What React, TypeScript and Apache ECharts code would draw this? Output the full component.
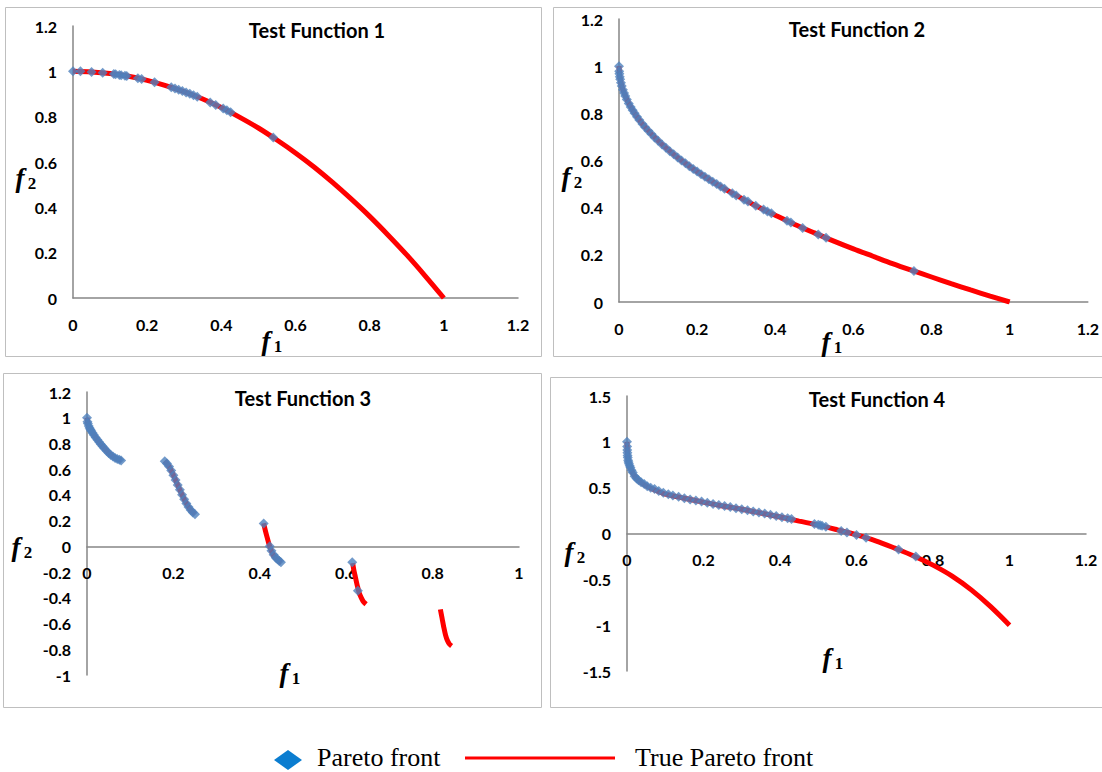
import React, { useEffect, useRef } from "react";
import * as echarts from "echarts";

// ---------- Test Function 1 ----------
const TF1_TRUE_F1 = [0, 0.05, 0.1, 0.15, 0.2, 0.25, 0.3, 0.35, 0.4, 0.45, 0.5, 0.55, 0.6, 0.65, 0.7, 0.75, 0.8, 0.85, 0.9, 0.95, 1];
const TF1_TRUE_F2 = [1, 0.997, 0.99, 0.978, 0.96, 0.937, 0.91, 0.878, 0.84, 0.797, 0.75, 0.697, 0.64, 0.578, 0.51, 0.437, 0.36, 0.277, 0.19, 0.097, 0];
const TF1_PARETO_F1 = [0, 0.02, 0.05, 0.08, 0.11, 0.115, 0.125, 0.13, 0.14, 0.145, 0.175, 0.185, 0.22, 0.265, 0.275, 0.285, 0.295, 0.305, 0.315, 0.325, 0.335, 0.37, 0.385, 0.405, 0.415, 0.425, 0.54];
const TF1_PARETO_F2 = [1, 1, 0.997, 0.994, 0.988, 0.987, 0.984, 0.983, 0.98, 0.979, 0.969, 0.966, 0.952, 0.93, 0.924, 0.919, 0.913, 0.907, 0.901, 0.894, 0.888, 0.863, 0.852, 0.836, 0.828, 0.819, 0.708];

// ---------- Test Function 2 ----------
const TF2_TRUE_F1 = [0, 0.002, 0.005, 0.01, 0.02, 0.03, 0.05, 0.07, 0.1, 0.13, 0.16, 0.2, 0.25, 0.3, 0.35, 0.4, 0.45, 0.5, 0.55, 0.6, 0.65, 0.7, 0.75, 0.8, 0.85, 0.9, 0.95, 1];
const TF2_TRUE_F2 = [1, 0.955, 0.93, 0.9, 0.86, 0.827, 0.776, 0.735, 0.684, 0.64, 0.6, 0.553, 0.5, 0.452, 0.408, 0.368, 0.329, 0.293, 0.258, 0.225, 0.194, 0.163, 0.134, 0.106, 0.078, 0.051, 0.025, 0];
const TF2_PARETO_F1 = [0, 0.0005, 0.001, 0.002, 0.003, 0.005, 0.007, 0.01, 0.013, 0.016, 0.02, 0.025, 0.03, 0.035, 0.04, 0.046, 0.052, 0.06, 0.067, 0.075, 0.083, 0.091, 0.1, 0.11, 0.12, 0.13, 0.14, 0.15, 0.16, 0.17, 0.18, 0.19, 0.2, 0.21, 0.22, 0.23, 0.24, 0.25, 0.26, 0.27, 0.29, 0.3, 0.32, 0.33, 0.35, 0.37, 0.38, 0.39, 0.43, 0.44, 0.47, 0.51, 0.53, 0.755];
const TF2_PARETO_F2 = [1, 0.978, 0.968, 0.955, 0.945, 0.93, 0.916, 0.9, 0.886, 0.874, 0.859, 0.842, 0.827, 0.813, 0.8, 0.786, 0.772, 0.755, 0.741, 0.726, 0.712, 0.698, 0.684, 0.668, 0.654, 0.639, 0.626, 0.613, 0.6, 0.588, 0.576, 0.564, 0.553, 0.542, 0.531, 0.52, 0.51, 0.5, 0.49, 0.48, 0.461, 0.452, 0.434, 0.426, 0.408, 0.392, 0.384, 0.376, 0.344, 0.337, 0.314, 0.286, 0.272, 0.131];

// ---------- Test Function 3 (disconnected front, one list per piece) ----------
const TF3_TRUE_F1 = [
  [0, 0.002, 0.005, 0.01, 0.02, 0.03, 0.04, 0.05, 0.06, 0.07, 0.08],
  [0.18, 0.19, 0.2, 0.21, 0.22, 0.23, 0.24, 0.25],
  [0.409, 0.413, 0.417, 0.421, 0.425, 0.43, 0.435, 0.44, 0.445, 0.45],
  [0.615, 0.618, 0.622, 0.626, 0.63, 0.635, 0.64, 0.646],
  [0.818, 0.822, 0.826, 0.83, 0.834, 0.839, 0.844],
];
const TF3_TRUE_F2 = [
  [1, 0.955, 0.925, 0.897, 0.847, 0.8, 0.762, 0.726, 0.698, 0.679, 0.67],
  [0.665, 0.62, 0.553, 0.477, 0.402, 0.334, 0.282, 0.25],
  [0.18, 0.12, 0.07, 0.02, -0.02, -0.06, -0.085, -0.1, -0.115, -0.125],
  [-0.13, -0.19, -0.25, -0.31, -0.36, -0.4, -0.43, -0.45],
  [-0.49, -0.56, -0.63, -0.69, -0.73, -0.76, -0.775],
];
const TF3_PARETO_F1 = [0, 0.001, 0.002, 0.004, 0.006, 0.008, 0.01, 0.013, 0.016, 0.02, 0.024, 0.028, 0.032, 0.036, 0.04, 0.045, 0.05, 0.055, 0.06, 0.065, 0.07, 0.075, 0.079,
  0.18, 0.185, 0.19, 0.195, 0.2, 0.205, 0.21, 0.215, 0.22, 0.225, 0.23, 0.235, 0.24, 0.245, 0.25,
  0.409, 0.423, 0.427, 0.432, 0.437, 0.441, 0.445, 0.449,
  0.614, 0.627];
const TF3_PARETO_F2 = [1, 0.968, 0.955, 0.936, 0.921, 0.909, 0.897, 0.881, 0.866, 0.847, 0.829, 0.811, 0.794, 0.778, 0.762, 0.743, 0.726, 0.711, 0.698, 0.687, 0.679, 0.673, 0.668,
  0.662, 0.645, 0.62, 0.59, 0.553, 0.515, 0.477, 0.44, 0.402, 0.367, 0.334, 0.306, 0.282, 0.264, 0.25,
  0.178, 0.0, -0.035, -0.066, -0.088, -0.1, -0.113, -0.124,
  -0.124, -0.346];

// ---------- Test Function 4 ----------
const TF4_TRUE_F1 = [0, 0.001, 0.003, 0.006, 0.01, 0.02, 0.035, 0.05, 0.075, 0.1, 0.15, 0.2, 0.25, 0.3, 0.35, 0.4, 0.45, 0.5, 0.55, 0.6, 0.65, 0.7, 0.75, 0.8, 0.85, 0.9, 0.95, 1];
const TF4_TRUE_F2 = [1, 0.88, 0.8, 0.75, 0.7, 0.625, 0.56, 0.52, 0.47, 0.43, 0.385, 0.342, 0.3, 0.265, 0.223, 0.18, 0.135, 0.092, 0.04, -0.015, -0.08, -0.16, -0.245, -0.345, -0.465, -0.615, -0.795, -1];
const TF4_PARETO_F1 = [0, 0.0003, 0.0006, 0.001, 0.0015, 0.002, 0.003, 0.004, 0.005, 0.007, 0.009, 0.012, 0.015, 0.02, 0.025, 0.03, 0.037, 0.045, 0.053, 0.062, 0.072, 0.083, 0.095, 0.108, 0.12, 0.135, 0.15, 0.165, 0.18, 0.195, 0.21, 0.225, 0.24, 0.255, 0.27, 0.285, 0.3, 0.315, 0.33, 0.345, 0.36, 0.375, 0.39, 0.405, 0.42, 0.43, 0.49, 0.5, 0.505, 0.51, 0.52, 0.56, 0.575, 0.6, 0.625, 0.71, 0.755];
const TF4_PARETO_F2 = [1, 0.95, 0.91, 0.88, 0.85, 0.83, 0.8, 0.78, 0.76, 0.74, 0.72, 0.69, 0.665, 0.625, 0.6, 0.58, 0.56, 0.54, 0.515, 0.5, 0.485, 0.465, 0.445, 0.428, 0.415, 0.4, 0.385, 0.372, 0.36, 0.348, 0.335, 0.322, 0.31, 0.3, 0.288, 0.276, 0.265, 0.253, 0.241, 0.229, 0.217, 0.205, 0.192, 0.178, 0.166, 0.158, 0.105, 0.095, 0.09, 0.085, 0.075, 0.028, 0.01, -0.015, -0.045, -0.175, -0.25];

// ---------- Texts ----------
const TITLES = ["Test Function 1", "Test Function 2", "Test Function 3", "Test Function 4"];
const LEGEND_LABELS = ["Pareto front", "True Pareto front"];

const BLUE = "#4F81BD";
const RED = "#FF0000";
const AXIS_GRAY = "#868686";
const BORDER_GRAY = "#BFBFBF";

const zip = (xs: number[], ys: number[]) => xs.map((x, i) => [x, ys[i]]);

export default function App() {
  const ref = useRef<HTMLDivElement>(null);

  useEffect(() => {
    if (!ref.current) return;
    const chart = echarts.init(ref.current, undefined, { renderer: "svg" });

    const panels = [
      { grid: { left: 73, top: 26, width: 445, height: 272 }, x: [0, 1.2, 0.2], y: [0, 1.2, 0.2] },
      { grid: { left: 619, top: 19, width: 476, height: 283 }, x: [0, 1.2, 0.2], y: [0, 1.2, 0.2] },
      { grid: { left: 87, top: 392, width: 432, height: 283 }, x: [0, 1, 0.2], y: [-1, 1.2, 0.2] },
      { grid: { left: 627, top: 396, width: 459, height: 275 }, x: [0, 1.2, 0.2], y: [-1.5, 1.5, 0.5] },
    ];

    const tickLabel = { fontFamily: "Lato", fontWeight: "bold" as const, fontSize: 16, color: "#000" };

    const grids = panels.map((p) => ({ ...p.grid, containLabel: false }));
    // the horizontal axis crosses the vertical one at f2 = 0
    const xAxes = panels.map((p, i) => ({
      type: "value" as const,
      gridIndex: i,
      min: p.x[0],
      max: p.x[1],
      interval: p.x[2],
      position: "bottom" as const,
      offset: p.y[0] < 0 ? -(p.grid.height * -p.y[0]) / (p.y[1] - p.y[0]) : 0,
      splitLine: { show: false },
      axisTick: { show: false },
      axisLine: { show: true, onZero: false, lineStyle: { color: AXIS_GRAY, width: 1.5 } },
      axisLabel: { ...tickLabel, margin: 18 },
    }));
    const yAxes = panels.map((p, i) => ({
      type: "value" as const,
      gridIndex: i,
      min: p.y[0],
      max: p.y[1],
      interval: p.y[2],
      splitLine: { show: false },
      axisTick: { show: false },
      axisLine: { show: true, onZero: false, lineStyle: { color: AXIS_GRAY, width: 1.5 } },
      axisLabel: { ...tickLabel, margin: 16 },
    }));

    const trueLine = (data: number[][], idx: number) => ({
      type: "line" as const,
      xAxisIndex: idx,
      yAxisIndex: idx,
      data,
      showSymbol: false,
      symbol: "none",
      smooth: 0.3,
      lineStyle: { color: RED, width: 5 },
      z: 2,
      silent: true,
    });
    const pareto = (data: number[][], idx: number) => ({
      type: "scatter" as const,
      xAxisIndex: idx,
      yAxisIndex: idx,
      data,
      symbol: "diamond",
      symbolSize: 10,
      itemStyle: { color: BLUE },
      z: 3,
      silent: true,
    });

    const series: any[] = [
      trueLine(zip(TF1_TRUE_F1, TF1_TRUE_F2), 0),
      pareto(zip(TF1_PARETO_F1, TF1_PARETO_F2), 0),
      trueLine(zip(TF2_TRUE_F1, TF2_TRUE_F2), 1),
      pareto(zip(TF2_PARETO_F1, TF2_PARETO_F2), 1),
      ...TF3_TRUE_F1.map((xs, k) => trueLine(zip(xs, TF3_TRUE_F2[k]), 2)),
      pareto(zip(TF3_PARETO_F1, TF3_PARETO_F2), 2),
      trueLine(zip(TF4_TRUE_F1, TF4_TRUE_F2), 3),
      pareto(zip(TF4_PARETO_F1, TF4_PARETO_F2), 3),
    ];

    const borders = [
      [5.5, 7.5, 536, 349],
      [553.5, 7.5, 560, 349],
      [3.5, 373.5, 538, 334],
      [550.5, 377.5, 560, 330],
    ].map(([x, y, w, h]) => ({
      type: "rect",
      shape: { x, y, width: w, height: h },
      style: { fill: "none", stroke: BORDER_GRAY, lineWidth: 1 },
      z: 0,
      silent: true,
    }));

    const titlePos = [
      [317, 30],
      [857, 29],
      [303, 398],
      [877, 399],
    ];
    const titles = TITLES.map((t, i) => ({
      type: "text",
      x: titlePos[i][0],
      y: titlePos[i][1],
      style: {
        text: t,
        fontFamily: "Lato",
        fontWeight: "bold",
        fontSize: 20,
        fill: "#000",
        textAlign: "center",
        textVerticalAlign: "middle",
      },
      silent: true,
    }));

    // axis names: italic f with an upright subscript
    const names: [number, number, string][] = [
      [20, 178, "2"], [266, 341, "1"],
      [566, 177, "2"], [826, 342, "1"],
      [16, 547, "2"], [284, 673, "1"],
      [569, 552, "2"], [827, 658, "1"],
    ];
    const nameEls: any[] = [];
    names.forEach(([x, y, sub]) => {
      nameEls.push({
        type: "text",
        x,
        y,
        style: {
          text: "f",
          fontFamily: "Liberation Serif",
          fontStyle: "italic",
          fontWeight: "bold",
          fontSize: 27,
          fill: "#000",
          textAlign: "center",
          textVerticalAlign: "middle",
        },
        silent: true,
      });
      nameEls.push({
        type: "text",
        x: x + 12,
        y: y + 5,
        style: {
          text: sub,
          fontFamily: "Liberation Serif",
          fontWeight: "bold",
          fontSize: 17,
          fill: "#000",
          textAlign: "center",
          textVerticalAlign: "middle",
        },
        silent: true,
      });
    });

    const legendEls = [
      {
        type: "polygon",
        shape: { points: [[274, 760], [288, 750], [302, 760], [288, 770]] },
        style: { fill: "#0B7DD0" },
        silent: true,
      },
      {
        type: "text",
        x: 317,
        y: 757,
        style: {
          text: LEGEND_LABELS[0],
          fontFamily: "Liberation Serif",
          fontSize: 26,
          fill: "#000",
          textAlign: "left",
          textVerticalAlign: "middle",
        },
        silent: true,
      },
      {
        type: "line",
        shape: { x1: 465, y1: 758, x2: 615, y2: 758 },
        style: { stroke: RED, lineWidth: 3 },
        silent: true,
      },
      {
        type: "text",
        x: 635,
        y: 757,
        style: {
          text: LEGEND_LABELS[1],
          fontFamily: "Liberation Serif",
          fontSize: 26,
          fill: "#000",
          textAlign: "left",
          textVerticalAlign: "middle",
        },
        silent: true,
      },
    ];

    chart.setOption({
      animation: false,
      backgroundColor: "#FFFFFF",
      grid: grids,
      xAxis: xAxes,
      yAxis: yAxes,
      series,
      graphic: { elements: [...borders, ...titles, ...nameEls, ...legendEls] },
    });

    return () => chart.dispose();
  }, []);

  return (
    <div
      ref={ref}
      style={{ position: "fixed", left: 0, top: 0, width: 1102, height: 772, background: "#fff" }}
    />
  );
}
